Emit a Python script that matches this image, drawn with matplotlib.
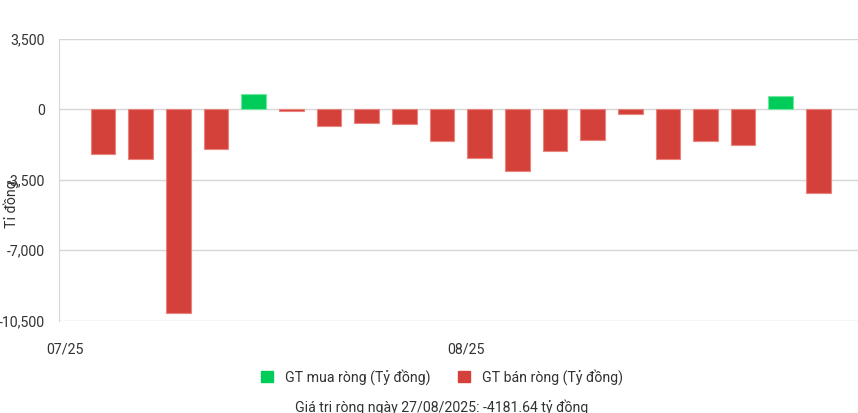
import matplotlib
matplotlib.use("Agg")
import matplotlib.pyplot as plt
from matplotlib.patches import Patch

plt.rcParams['font.family'] = ['Roboto', 'DejaVu Sans']

# Net trading value per session (billion VND), 31/07 -> 27/08/2025
values = [-2247, -2496, -10100, -1984, 744, -70, -827, -661, -744, -1571,
          -2447, -3092, -2067, -1538, -248, -2497, -1554, -1802, 678, -4181.64]
tick_pos = [-1.02, 9.64]
tick_labels = ["07/25", "08/25"]
yticks = [3500, 0, -3500, -7000, -10500]

green = '#00cc5a'
red = '#d4413a'
fs = 10.2

fig = plt.figure(figsize=(8.58, 4.13), dpi=100)
ax = fig.add_axes([59 / 858, 1 - 320.7 / 413, 1 - 59 / 858, (320.7 - 38.7) / 413])

x = list(range(len(values)))
colors = [green if v > 0 else red for v in values]
edges = ['#6fe9a0' if v > 0 else '#e8837d' for v in values]
ax.bar(x, values, width=0.655, color=colors, edgecolor=edges, linewidth=0.8, zorder=3)

ax.set_xlim(-1.17, 20.05)
ax.set_ylim(-10500, 3500)
ax.set_yticks(yticks)
ax.set_yticklabels([f"{t:,}" for t in yticks])
ax.set_xticks(tick_pos)
ax.set_xticklabels(tick_labels)
ax.tick_params(axis='both', length=0, labelsize=fs, colors='#333333')
ax.tick_params(axis='y', pad=10)
ax.tick_params(axis='x', pad=16)
ax.grid(axis='y', color='#d6d6d6', linewidth=1, zorder=0)
for s in ['top', 'right', 'bottom']:
    ax.spines[s].set_visible(False)
ax.spines['left'].set_color('#d6d6d6')

fig.text(11 / 858, 1 - 204 / 413, "Tỉ đồng", rotation=90, ha='center', va='center',
         fontsize=fs, color='#333333')

handles = [Patch(facecolor=green, edgecolor=green, label="GT mua ròng (Tỷ đồng)"),
           Patch(facecolor=red, edgecolor=red, label="GT bán ròng (Tỷ đồng)")]
fig.legend(handles=handles, loc='center', bbox_to_anchor=(442 / 858, 1 - 377 / 413),
           ncol=2, frameon=False, fontsize=fs, handlelength=0.85, handleheight=0.85,
           columnspacing=2.0, handletextpad=0.8, labelcolor='#333333')

fig.text(442 / 858, 1 - 407 / 413, "Giá trị ròng ngày 27/08/2025: -4181.64 tỷ đồng",
         ha='center', va='center', fontsize=fs, color='#333333')

fig.savefig("out.png", dpi=100)
